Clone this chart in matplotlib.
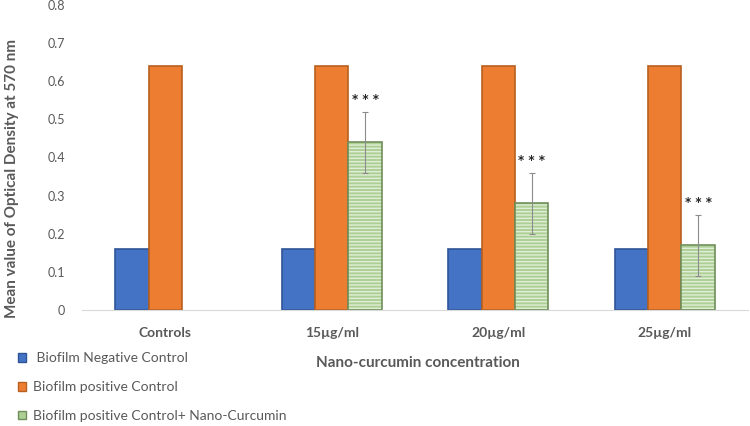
import numpy as np
import matplotlib
matplotlib.use("Agg")
import matplotlib.pyplot as plt
from matplotlib.patches import Patch

plt.rcParams['font.family'] = ['Lato', 'DejaVu Sans']
plt.rcParams['hatch.linewidth'] = 1.0

categories = ['Controls', '15µg/ml', '20µg/ml', '25µg/ml']
neg_control = [0.16, 0.16, 0.16, 0.16]
pos_control = [0.64, 0.64, 0.64, 0.64]
nano_curcumin = [np.nan, 0.44, 0.28, 0.17]
nano_err = [np.nan, 0.08, 0.08, 0.08]
series_labels = [' Biofilm Negative Control', 'Biofilm positive Control',
                 'Biofilm positive Control+ Nano-Curcumin']
yticks = [0, 0.1, 0.2, 0.3, 0.4, 0.5, 0.6, 0.7, 0.8]

grey = '#595959'
blue, blue_e = '#4472c4', '#2f5597'
orange, orange_e = '#ed7d31', '#b8601f'
green, green_e, stripe = '#adcf96', '#6f8f5a', '#e0eed6'

fig = plt.figure(figsize=(7.5, 4.26), dpi=100)
ax = fig.add_axes([0.1093, 0.2723, 0.888, 0.716])

x = np.arange(len(categories))
w = 0.2
ax.bar(x - w, neg_control, w, color=blue, edgecolor=blue_e, linewidth=1.2)
ax.bar(x, pos_control, w, color=orange, edgecolor=orange_e, linewidth=1.2)
# striped green bars: fill + hatch first, then outline
ax.bar(x + w, nano_curcumin, w, color=green, edgecolor=stripe, hatch='-----', linewidth=0)
ax.bar(x + w, nano_curcumin, w, color='none', edgecolor=green_e, linewidth=1.2)
ax.errorbar(x + w, nano_curcumin, yerr=nano_err, fmt='none', ecolor='#8c8c8c',
            elinewidth=0.8, capsize=2.5, capthick=0.8)
for xi, v, e in zip(x + w, nano_curcumin, nano_err):
    if not np.isnan(v):
        ax.text(xi, v + e + 0.031, '* * *', ha='center', va='center', fontsize=8.5,
                fontweight='bold', color='#262626', family='DejaVu Sans')

ax.set_xlim(-0.5, 3.5)
ax.set_ylim(0, 0.8)
ax.set_yticks(yticks)
ax.set_yticklabels(['0'] + [f'{t:.1f}' for t in yticks[1:]], color=grey, fontsize=9)
ax.set_xticks(x)
ax.set_xticklabels(categories, fontweight='bold', color=grey, fontsize=10)
ax.tick_params(axis='both', length=0)
ax.tick_params(axis='x', pad=12)
ax.tick_params(axis='y', pad=12)
for s in ['top', 'right', 'left']:
    ax.spines[s].set_visible(False)
ax.spines['bottom'].set_color('#d9d9d9')

fig.text(418 / 750, 1 - 363 / 426, 'Nano-curcumin concentration', ha='center', va='center',
         fontweight='bold', color=grey, fontsize=11)
fig.text(12 / 750, 1 - 178 / 426, 'Mean value of Optical Density at 570 nm', rotation=90,
         ha='center', va='center', fontweight='bold', color=grey, fontsize=11)

handles = [Patch(facecolor=blue, edgecolor=blue_e),
           Patch(facecolor=orange, edgecolor=orange_e),
           Patch(facecolor=green, edgecolor=green_e)]
fig.legend(handles, series_labels, loc='upper left', bbox_to_anchor=(0.007, 1 - 340 / 426),
           frameon=False, fontsize=10, labelcolor=grey, handlelength=0.6, handleheight=0.6,
           handletextpad=0.5, labelspacing=1.2)

fig.savefig('out.png', dpi=100)
